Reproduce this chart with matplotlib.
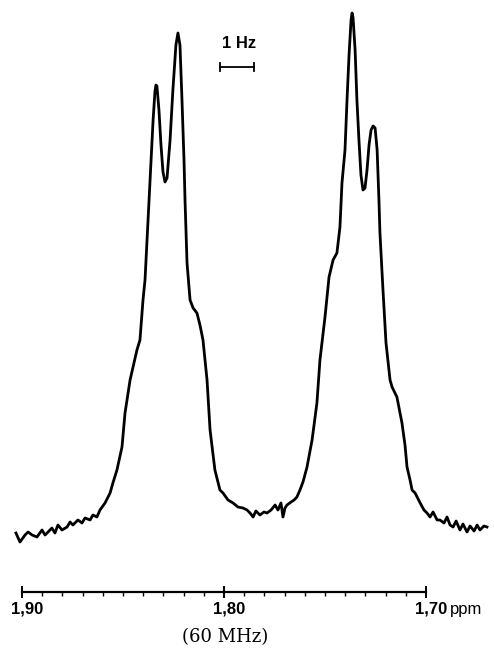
import numpy as np
import matplotlib.pyplot as plt
from matplotlib.ticker import FixedLocator

# spectrum trace: shift (ppm) and intensity (arb. units)
ppm_left_base = [1.9030, 1.9010, 1.8985, 1.8970, 1.8950, 1.8926, 1.8901, 1.8886,
                 1.8871, 1.8852, 1.8837, 1.8822, 1.8802, 1.8777, 1.8762, 1.8748,
                 1.8723, 1.8703, 1.8688, 1.8663, 1.8649, 1.8629, 1.8614, 1.8589]
int_left_base = [12, 3, 10, 13, 10, 8, 15, 10,
                 13, 17, 12, 20, 15, 18, 23, 20,
                 25, 22, 27, 25, 30, 28, 35, 42]

ppm_group1 = [1.8564, 1.8550, 1.8530, 1.8505, 1.8490, 1.8465, 1.8431, 1.8416,
              1.8401, 1.8391, 1.8381, 1.8371, 1.8361, 1.8351, 1.8342, 1.8337,
              1.8332, 1.8322, 1.8312, 1.8302, 1.8292, 1.8282, 1.8267, 1.8253,
              1.8238, 1.8228, 1.8218, 1.8208, 1.8198, 1.8193, 1.8183, 1.8168,
              1.8153, 1.8134, 1.8119, 1.8104, 1.8084, 1.8069, 1.8054, 1.8045,
              1.8020]
int_group1 = [52, 62, 75, 98, 132, 165, 195, 205,
              245, 265, 305, 345, 385, 425, 453, 460,
              459, 435, 400, 373, 363, 367, 405, 455,
              500, 512, 500, 445, 385, 345, 282, 245,
              237, 232, 220, 205, 165, 115, 90, 75,
              55]

ppm_mid_base = [1.8005, 1.7980, 1.7955, 1.7931, 1.7906, 1.7886, 1.7871, 1.7856,
                1.7842, 1.7822, 1.7802, 1.7787, 1.7767, 1.7747, 1.7733, 1.7718,
                1.7708, 1.7698, 1.7688, 1.7668, 1.7653, 1.7639]
int_mid_base = [52, 45, 42, 38, 37, 35, 32, 28,
                34, 30, 33, 32, 35, 40, 35, 42,
                28, 37, 40, 43, 45, 48]

ppm_group2 = [1.7624, 1.7609, 1.7589, 1.7564, 1.7540, 1.7525, 1.7500, 1.7480,
              1.7460, 1.7441, 1.7426, 1.7416, 1.7401, 1.7391, 1.7381, 1.7371,
              1.7366, 1.7361, 1.7351, 1.7342, 1.7332, 1.7322, 1.7312, 1.7302,
              1.7292, 1.7282, 1.7272, 1.7262, 1.7252, 1.7242, 1.7233, 1.7228,
              1.7213, 1.7198, 1.7178, 1.7168, 1.7144, 1.7119, 1.7104, 1.7094,
              1.7079, 1.7069]
int_group2 = [55, 63, 78, 105, 142, 185, 228, 268,
              285, 292, 318, 362, 395, 445, 490, 525,
              532, 527, 495, 445, 405, 370, 355, 357,
              375, 400, 415, 419, 417, 395, 345, 312,
              255, 202, 165, 158, 148, 122, 100, 78,
              65, 55]

ppm_right_base = [1.7054, 1.7044, 1.7029, 1.7010, 1.6995, 1.6980, 1.6965, 1.6945,
                  1.6931, 1.6911, 1.6896, 1.6881, 1.6866, 1.6851, 1.6832, 1.6817,
                  1.6797, 1.6782, 1.6762, 1.6747, 1.6733, 1.6713, 1.6698]
int_right_base = [52, 48, 42, 35, 32, 28, 33, 25,
                  25, 22, 28, 20, 18, 24, 15, 21,
                  13, 19, 14, 20, 15, 19, 18]

scale_ticks = [1.90, 1.80, 1.70]
scale_labels = ['1,90', '1,80', '1,70']
hz_bar_start = 1.8020   # left end of the 1 Hz marker (ppm)
spectrometer_mhz = 60

ppm = np.concatenate([ppm_left_base, ppm_group1, ppm_mid_base, ppm_group2, ppm_right_base])
inten = np.concatenate([int_left_base, int_group1, int_mid_base, int_group2, int_right_base])

fig = plt.figure(figsize=(4.94, 6.56), dpi=100)
ax = fig.add_axes([0, 64/656, 1, 592/656])
ax.plot(ppm, inten, color='black', lw=2.0, solid_joinstyle='round')
ax.set_xlim(1.91089, 1.66634)
ax.set_ylim(-47, 545)

for s in ['top', 'left', 'right']:
    ax.spines[s].set_visible(False)
ax.spines['bottom'].set_bounds(1.70, 1.90)
ax.spines['bottom'].set_linewidth(1.6)
ax.set_yticks([])
ax.xaxis.set_major_locator(FixedLocator(scale_ticks))
ax.xaxis.set_minor_locator(FixedLocator(np.round(np.arange(1.70, 1.9001, 0.01), 2)))
ax.tick_params(axis='x', which='major', direction='inout', length=8, width=1.4, labelbottom=False)
ax.tick_params(axis='x', which='minor', direction='out', length=3, width=1.0)

tr = ax.get_xaxis_transform()
for t, lab in zip(scale_ticks, scale_labels):
    ax.text(t - 0.0025, -0.037, lab, transform=tr, ha='center', va='baseline',
            fontsize=12, fontweight='bold', family='Liberation Sans')
ax.text(1.6883, -0.037, 'ppm', transform=tr, ha='left', va='baseline',
        fontsize=12, family='Liberation Sans')
ax.text(1.7995, -0.085, '(%d MHz)' % spectrometer_mhz, transform=tr, ha='center',
        va='baseline', fontsize=13, family='DejaVu Serif')

# 1 Hz marker
bar_w = 1.0 / spectrometer_mhz
ax.plot([hz_bar_start, hz_bar_start - bar_w], [478, 478], color='black', lw=1.3)
ax.plot([hz_bar_start, hz_bar_start], [474, 482], color='black', lw=1.3)
ax.plot([hz_bar_start - bar_w, hz_bar_start - bar_w], [474, 482], color='black', lw=1.3)
ax.text(hz_bar_start - bar_w / 2 - 0.001, 497, '1 Hz', ha='center', va='baseline',
        fontsize=12, fontweight='bold', family='Liberation Sans')

fig.savefig('out.png', dpi=100)
